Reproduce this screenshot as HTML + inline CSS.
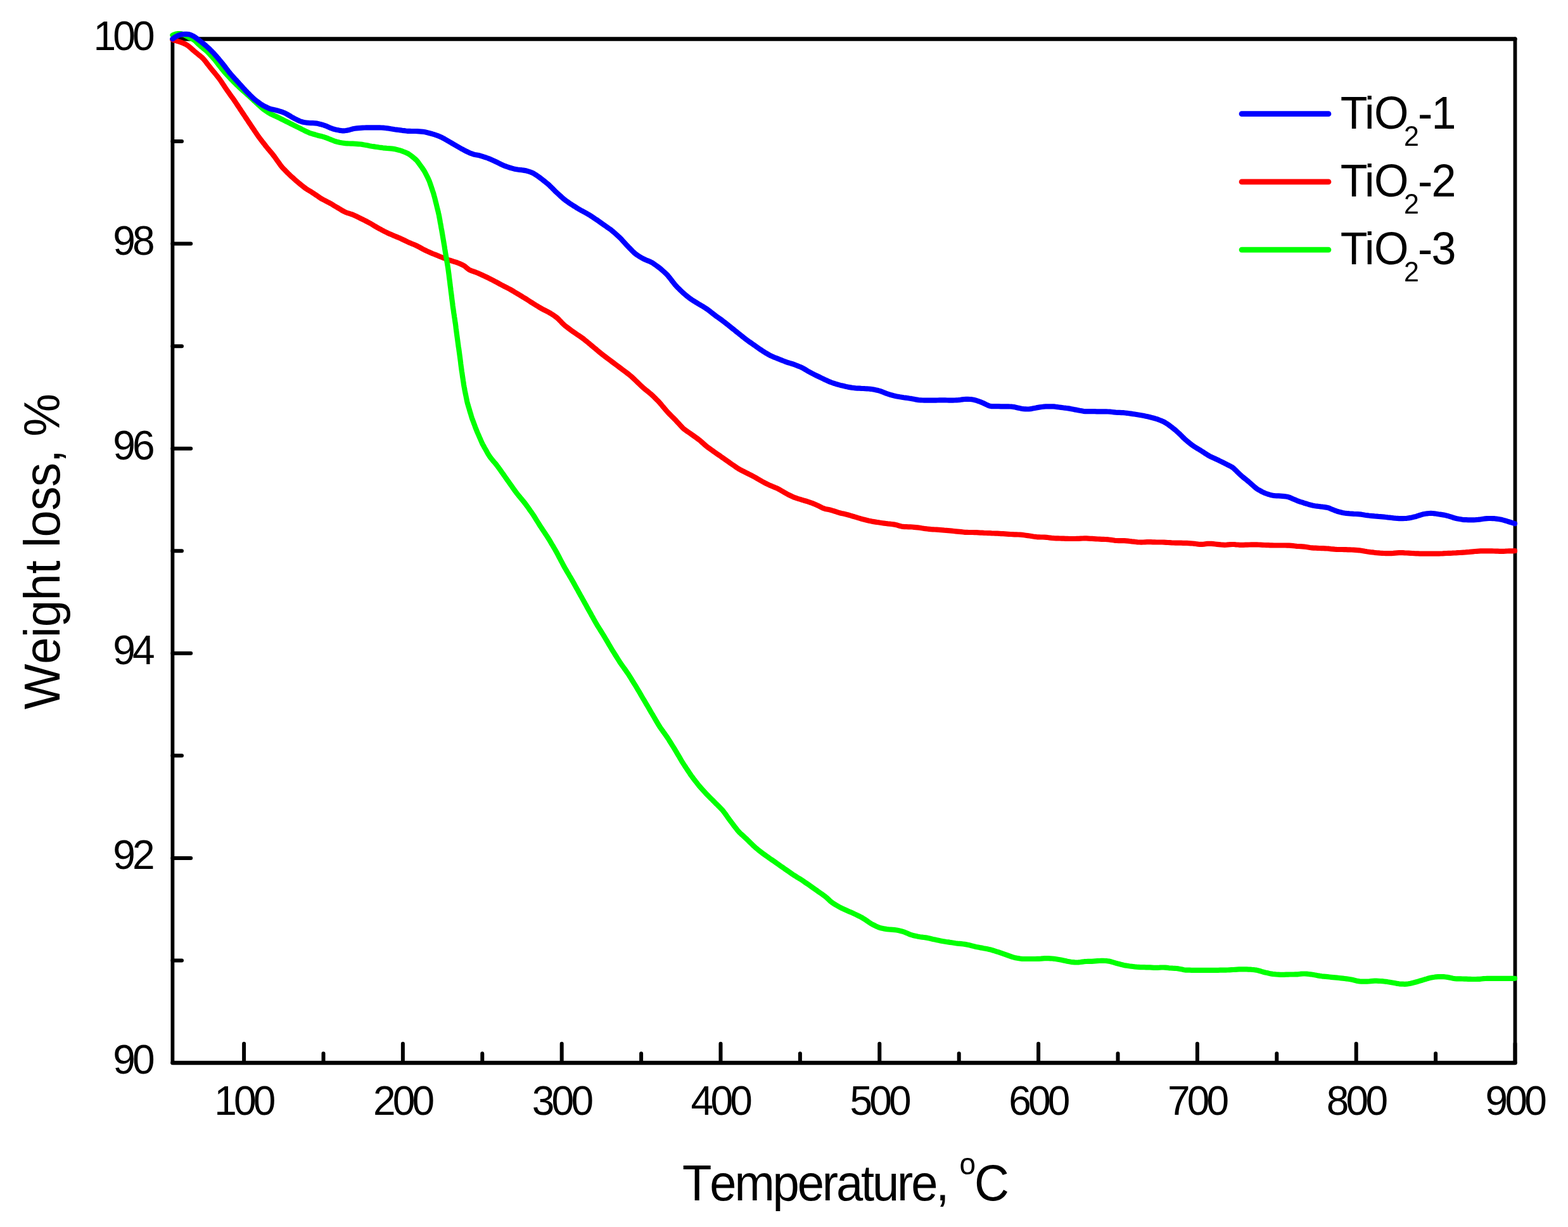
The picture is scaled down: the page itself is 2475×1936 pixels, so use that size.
<!DOCTYPE html>
<html><head><meta charset="utf-8"><title>TGA</title><style>html,body{margin:0;padding:0;background:#fff;overflow:hidden}svg{display:block}text{font-kerning:none}</style></head><body>
<svg width="2475" height="1936" viewBox="0 0 2475 1936">
<rect width="2475" height="1936" fill="#fff"/>
<path d="M385.10 1677.00V1646.70M510.50 1677.00V1662.20M635.90 1677.00V1646.70M761.30 1677.00V1662.20M886.70 1677.00V1646.70M1012.10 1677.00V1662.20M1137.50 1677.00V1646.70M1262.90 1677.00V1662.20M1388.30 1677.00V1646.70M1513.70 1677.00V1662.20M1639.10 1677.00V1646.70M1764.50 1677.00V1662.20M1889.90 1677.00V1646.70M2015.30 1677.00V1662.20M2140.70 1677.00V1646.70M2266.10 1677.00V1662.20M2391.50 1677.00V1646.70M272.40 1515.45H287.00M272.40 1353.90H301.20M272.40 1192.35H287.00M272.40 1030.80H301.20M272.40 869.25H287.00M272.40 707.70H301.20M272.40 546.15H287.00M272.40 384.60H301.20M272.40 223.05H287.00" stroke="#000" stroke-width="6.0" stroke-linecap="round" fill="none"/>
<path d="M272.4 61.5H2391.5" stroke="#000" stroke-width="6.3" fill="none" stroke-linecap="round"/>
<path d="M272.4 1677.0H2391.5" stroke="#000" stroke-width="6.3" fill="none" stroke-linecap="round"/>
<path d="M272.4 61.5V1677.0" stroke="#000" stroke-width="5.8" fill="none" stroke-linecap="round"/>
<path d="M2391.5 61.5V1677.0" stroke="#000" stroke-width="5.8" fill="none" stroke-linecap="round"/>
<g font-family="'Liberation Sans', sans-serif" font-size="64" fill="#000" style="letter-spacing:-4.8px">
<text x="384.40" y="1759" text-anchor="middle">100</text>
<text x="635.20" y="1759" text-anchor="middle">200</text>
<text x="886.00" y="1759" text-anchor="middle">300</text>
<text x="1136.80" y="1759" text-anchor="middle">400</text>
<text x="1387.60" y="1759" text-anchor="middle">500</text>
<text x="1638.40" y="1759" text-anchor="middle">600</text>
<text x="1889.20" y="1759" text-anchor="middle">700</text>
<text x="2140.00" y="1759" text-anchor="middle">800</text>
<text x="2390.80" y="1759" text-anchor="middle">900</text>
<text x="239.8" y="1694.30" text-anchor="end">90</text>
<text x="239.8" y="1371.20" text-anchor="end">92</text>
<text x="239.8" y="1048.10" text-anchor="end">94</text>
<text x="239.8" y="725.00" text-anchor="end">96</text>
<text x="239.8" y="401.90" text-anchor="end">98</text>
<text x="239.8" y="78.80" text-anchor="end">100</text>
</g>
<polyline points="272.4,62.7 275.4,63.7 278.1,64.4 281.0,65.2 283.8,66.1 286.7,67.1 289.5,68.2 292.2,69.4 294.8,70.8 297.2,72.5 299.5,74.4 301.8,76.4 304.0,78.4 306.3,80.4 308.6,82.3 310.9,84.2 313.2,86.1 315.6,88.0 317.9,89.9 320.1,91.9 322.1,94.1 324.0,96.4 325.8,98.8 327.6,101.2 329.5,103.5 331.3,105.9 333.2,108.3 335.1,110.6 337.0,112.9 338.9,115.2 340.8,117.5 342.7,119.8 344.6,122.2 346.4,124.6 348.1,127.0 349.8,129.5 351.4,132.0 353.1,134.5 354.7,137.0 356.4,139.5 358.1,142.0 359.8,144.4 361.6,146.9 363.3,149.3 365.1,151.8 366.8,154.2 368.6,156.7 370.3,159.1 372.0,161.6 373.6,164.1 375.3,166.6 377.0,169.1 378.6,171.6 380.3,174.1 381.9,176.6 383.6,179.1 385.3,181.6 386.9,184.1 388.6,186.6 390.3,189.1 391.9,191.6 393.6,194.1 395.3,196.6 396.9,199.1 398.6,201.6 400.3,204.0 401.9,206.5 403.6,209.0 405.3,211.5 407.0,214.0 408.7,216.4 410.5,218.8 412.4,221.2 414.2,223.6 416.0,225.9 417.9,228.3 419.7,230.7 421.6,233.0 423.5,235.3 425.5,237.6 427.4,239.9 429.3,242.2 431.2,244.6 433.0,246.9 434.8,249.4 436.5,251.8 438.3,254.3 440.0,256.7 441.7,259.1 443.5,261.6 445.4,263.9 447.4,266.1 449.5,268.2 451.6,270.4 453.7,272.5 455.9,274.6 458.0,276.7 460.2,278.7 462.5,280.7 464.7,282.7 466.9,284.7 469.2,286.7 471.5,288.6 473.8,290.5 476.1,292.4 478.5,294.3 480.9,296.1 483.3,297.9 485.8,299.5 488.4,301.0 491.0,302.6 493.5,304.2 496.0,305.8 498.5,307.5 501.0,309.2 503.4,310.9 505.9,312.6 508.5,314.1 511.1,315.5 513.8,316.9 516.5,318.3 519.1,319.6 521.8,321.1 524.3,322.6 526.9,324.2 529.5,325.7 532.1,327.2 534.6,328.8 537.2,330.3 539.8,331.9 542.4,333.4 545.0,334.7 547.8,335.8 550.7,336.7 553.5,337.6 556.4,338.5 559.1,339.7 561.9,340.9 564.5,342.3 567.2,343.6 569.9,345.0 572.6,346.3 575.3,347.6 578.0,349.0 580.6,350.4 583.3,351.8 585.9,353.3 588.4,354.8 591.0,356.4 593.6,357.9 596.2,359.4 598.8,360.8 601.5,362.2 604.1,363.7 606.8,365.1 609.5,366.4 612.2,367.7 614.9,368.9 617.6,370.1 620.4,371.4 623.2,372.5 625.9,373.6 628.7,374.8 631.5,375.9 634.2,377.2 636.9,378.5 639.6,379.8 642.3,381.1 645.0,382.4 647.8,383.6 650.5,384.7 653.3,385.8 656.1,387.0 658.8,388.3 661.4,389.7 664.1,391.2 666.7,392.6 669.3,394.0 672.0,395.3 674.8,396.6 677.5,397.8 680.2,399.0 683.0,400.2 685.8,401.3 688.6,402.4 691.4,403.5 694.1,404.7 696.9,405.8 699.7,406.9 702.5,408.0 705.3,409.1 708.1,410.1 711.0,411.0 713.8,411.9 716.7,412.8 719.6,413.7 722.4,414.7 725.2,415.8 727.9,417.0 730.6,418.2 733.2,419.7 735.5,421.6 737.7,423.5 740.1,425.3 742.7,426.6 745.5,427.7 748.3,428.7 751.2,429.7 754.0,430.8 756.7,432.0 759.5,433.2 762.2,434.5 764.9,435.7 767.6,437.0 770.3,438.3 773.0,439.7 775.7,441.0 778.3,442.4 781.0,443.8 783.6,445.2 786.3,446.7 788.9,448.1 791.5,449.5 794.2,450.9 796.9,452.3 799.6,453.6 802.2,455.0 804.9,456.4 807.5,457.9 810.1,459.4 812.6,461.0 815.2,462.5 817.8,464.1 820.3,465.6 822.9,467.1 825.5,468.7 828.1,470.2 830.6,471.8 833.1,473.4 835.7,475.1 838.2,476.7 840.7,478.3 843.2,479.9 845.8,481.5 848.4,483.0 850.9,484.6 853.5,486.1 856.1,487.6 858.8,489.0 861.5,490.3 864.1,491.7 866.8,493.1 869.4,494.6 871.9,496.2 874.4,497.9 876.8,499.6 879.2,501.4 881.4,503.4 883.5,505.6 885.6,507.7 887.6,509.9 889.8,512.0 892.0,514.0 894.4,515.8 896.8,517.6 899.2,519.4 901.6,521.2 904.0,523.0 906.5,524.7 909.0,526.4 911.5,528.1 914.0,529.7 916.4,531.4 918.9,533.1 921.3,534.9 923.6,536.8 925.9,538.7 928.3,540.6 930.6,542.5 932.9,544.5 935.2,546.4 937.5,548.3 939.8,550.2 942.1,552.2 944.4,554.1 946.7,556.0 949.0,557.9 951.4,559.7 953.8,561.6 956.2,563.4 958.6,565.2 961.0,567.0 963.4,568.8 965.8,570.6 968.2,572.4 970.6,574.2 973.0,576.0 975.4,577.8 977.8,579.6 980.2,581.4 982.6,583.2 985.0,585.0 987.4,586.8 989.8,588.6 992.2,590.4 994.5,592.3 996.8,594.2 999.0,596.3 1001.1,598.3 1003.3,600.4 1005.5,602.5 1007.6,604.5 1009.8,606.6 1012.0,608.7 1014.2,610.7 1016.4,612.7 1018.7,614.7 1021.1,616.5 1023.4,618.4 1025.7,620.3 1028.0,622.2 1030.2,624.3 1032.4,626.4 1034.5,628.5 1036.6,630.6 1038.7,632.7 1040.8,634.9 1042.8,637.2 1044.7,639.5 1046.6,641.8 1048.6,644.1 1050.5,646.4 1052.4,648.6 1054.4,650.9 1056.5,653.0 1058.6,655.1 1060.8,657.3 1062.9,659.4 1065.0,661.5 1067.1,663.7 1069.1,665.9 1071.1,668.1 1073.1,670.3 1075.2,672.6 1077.2,674.7 1079.4,676.7 1081.8,678.5 1084.3,680.3 1086.7,682.0 1089.2,683.7 1091.6,685.4 1094.1,687.2 1096.5,688.9 1099.0,690.6 1101.4,692.4 1103.8,694.2 1106.1,696.1 1108.3,698.1 1110.6,700.1 1112.8,702.1 1115.1,704.1 1117.4,705.9 1119.9,707.7 1122.3,709.4 1124.8,711.1 1127.2,712.9 1129.7,714.6 1132.1,716.3 1134.6,718.0 1137.1,719.7 1139.5,721.5 1142.0,723.2 1144.4,724.9 1146.9,726.6 1149.4,728.3 1151.8,730.1 1154.3,731.8 1156.7,733.5 1159.2,735.2 1161.6,736.9 1164.1,738.6 1166.7,740.2 1169.3,741.6 1172.0,743.0 1174.7,744.3 1177.3,745.7 1180.0,747.0 1182.7,748.4 1185.4,749.7 1188.1,751.1 1190.7,752.5 1193.3,753.9 1195.9,755.5 1198.5,757.0 1201.1,758.5 1203.7,760.0 1206.3,761.4 1209.0,762.8 1211.7,764.1 1214.4,765.4 1217.1,766.6 1219.9,767.8 1222.7,768.9 1225.5,770.1 1228.2,771.3 1230.8,772.7 1233.4,774.2 1236.0,775.7 1238.6,777.3 1241.2,778.7 1243.8,780.2 1246.5,781.5 1249.2,782.8 1251.9,784.1 1254.7,785.2 1257.5,786.2 1260.4,787.1 1263.3,787.9 1266.1,788.8 1269.0,789.7 1271.9,790.5 1274.8,791.4 1277.6,792.3 1280.4,793.3 1283.2,794.4 1286.0,795.5 1288.8,796.7 1291.5,797.9 1294.2,799.3 1296.8,800.7 1299.5,801.9 1302.3,802.9 1305.2,803.5 1308.2,804.1 1311.1,804.8 1314.0,805.6 1316.9,806.5 1319.7,807.4 1322.5,808.4 1325.4,809.2 1328.3,810.0 1331.3,810.6 1334.2,811.3 1337.1,812.0 1340.0,812.8 1342.9,813.6 1345.7,814.5 1348.6,815.3 1351.5,816.2 1354.4,817.1 1357.2,817.9 1360.1,818.8 1363.0,819.6 1365.9,820.3 1368.8,821.0 1371.8,821.7 1374.7,822.3 1377.6,822.9 1380.6,823.4 1383.6,823.9 1386.5,824.3 1389.5,824.8 1392.5,825.2 1395.4,825.6 1398.4,826.0 1401.4,826.4 1404.4,826.7 1407.3,827.0 1410.3,827.4 1413.3,827.9 1416.2,828.6 1419.0,829.5 1421.9,830.3 1424.8,830.9 1427.8,831.2 1430.8,831.2 1433.8,831.3 1436.8,831.3 1439.8,831.5 1442.8,831.8 1445.7,832.1 1448.7,832.4 1451.7,832.8 1454.7,833.3 1457.6,833.7 1460.6,834.2 1463.6,834.5 1466.6,834.8 1469.5,835.1 1472.5,835.3 1475.5,835.5 1478.5,835.7 1481.5,835.9 1484.5,836.1 1487.5,836.3 1490.5,836.6 1493.5,836.8 1496.5,837.1 1499.5,837.4 1502.4,837.7 1505.4,838.0 1508.4,838.3 1511.4,838.6 1514.4,838.9 1517.4,839.2 1520.4,839.5 1523.3,839.8 1526.3,839.9 1529.3,840.0 1532.3,840.0 1535.3,840.0 1538.3,840.1 1541.3,840.2 1544.3,840.4 1547.3,840.6 1550.3,840.7 1553.3,840.9 1556.3,841.0 1559.3,841.1 1562.3,841.2 1565.3,841.4 1568.3,841.5 1571.3,841.6 1574.3,841.7 1577.3,841.9 1580.3,842.1 1583.3,842.2 1586.3,842.4 1589.3,842.6 1592.3,842.8 1595.3,843.0 1598.3,843.1 1601.3,843.3 1604.3,843.4 1607.3,843.5 1610.3,843.7 1613.2,843.9 1616.2,844.3 1619.2,844.7 1622.2,845.1 1625.1,845.5 1628.1,846.0 1631.1,846.5 1634.0,846.9 1637.0,847.3 1640.0,847.4 1643.0,847.5 1646.0,847.5 1649.0,847.6 1652.0,847.8 1654.9,848.2 1657.9,848.6 1660.9,849.0 1663.9,849.2 1666.9,849.3 1669.9,849.4 1672.9,849.5 1675.9,849.6 1678.9,849.7 1681.9,849.8 1684.9,849.9 1687.9,850.0 1690.9,850.0 1693.9,850.0 1696.9,850.0 1699.9,849.9 1702.9,849.8 1705.9,849.6 1708.9,849.5 1711.8,849.4 1714.8,849.4 1717.8,849.6 1720.8,849.8 1723.8,849.9 1726.8,850.1 1729.8,850.3 1732.8,850.5 1735.8,850.6 1738.8,850.8 1741.8,850.9 1744.8,851.0 1747.8,851.2 1750.8,851.5 1753.8,851.9 1756.7,852.3 1759.7,852.8 1762.7,853.0 1765.6,853.1 1768.6,853.1 1771.6,853.1 1774.6,853.1 1777.6,853.4 1780.6,853.7 1783.6,854.0 1786.6,854.4 1789.6,854.7 1792.5,855.0 1795.5,855.3 1798.5,855.5 1801.5,855.6 1804.5,855.5 1807.5,855.3 1810.5,855.2 1813.5,855.1 1816.5,855.2 1819.5,855.3 1822.5,855.4 1825.5,855.5 1828.5,855.5 1831.5,855.5 1834.5,855.5 1837.5,855.6 1840.5,855.8 1843.5,856.0 1846.5,856.2 1849.4,856.4 1852.4,856.5 1855.4,856.6 1858.4,856.7 1861.4,856.7 1864.4,856.7 1867.4,856.8 1870.4,856.8 1873.4,856.9 1876.4,857.1 1879.4,857.3 1882.4,857.5 1885.4,857.8 1888.4,858.2 1891.4,858.6 1894.3,858.9 1897.3,858.9 1900.3,858.6 1903.2,858.2 1906.2,857.9 1909.2,857.8 1912.2,857.9 1915.2,858.2 1918.1,858.5 1921.1,858.8 1924.1,859.1 1927.1,859.4 1930.1,859.6 1933.1,859.8 1936.1,859.7 1939.0,859.4 1942.0,859.2 1945.0,859.0 1948.0,859.0 1951.0,859.3 1954.0,859.5 1957.0,859.8 1960.0,859.9 1962.9,859.8 1965.9,859.7 1968.9,859.6 1971.9,859.5 1974.9,859.4 1977.9,859.4 1980.9,859.3 1983.9,859.4 1986.9,859.5 1989.9,859.6 1992.9,859.8 1995.9,860.0 1998.9,860.1 2001.9,860.2 2004.9,860.4 2007.9,860.4 2010.9,860.5 2013.9,860.5 2016.9,860.5 2019.9,860.5 2022.9,860.5 2025.9,860.5 2028.9,860.5 2031.9,860.6 2034.9,860.7 2037.9,860.9 2040.9,861.2 2043.9,861.5 2046.9,861.8 2049.9,862.0 2052.9,862.2 2055.8,862.4 2058.8,862.7 2061.8,863.0 2064.8,863.5 2067.7,864.0 2070.7,864.3 2073.7,864.6 2076.7,864.7 2079.7,864.8 2082.7,865.0 2085.7,865.1 2088.7,865.2 2091.7,865.3 2094.7,865.5 2097.7,865.7 2100.6,866.1 2103.6,866.4 2106.6,866.7 2109.6,866.9 2112.6,867.0 2115.6,867.0 2118.6,867.0 2121.6,867.1 2124.6,867.2 2127.6,867.3 2130.6,867.4 2133.6,867.5 2136.6,867.7 2139.6,867.9 2142.6,868.1 2145.6,868.3 2148.5,868.7 2151.5,869.2 2154.4,869.8 2157.4,870.3 2160.4,870.7 2163.3,871.1 2166.3,871.4 2169.3,871.8 2172.3,872.1 2175.3,872.3 2178.3,872.6 2181.3,872.8 2184.3,873.0 2187.2,873.1 2190.2,873.1 2193.2,873.2 2196.2,873.1 2199.2,872.9 2202.2,872.6 2205.2,872.4 2208.2,872.2 2211.2,872.1 2214.2,872.2 2217.2,872.4 2220.2,872.5 2223.2,872.6 2226.2,872.8 2229.2,873.0 2232.2,873.2 2235.2,873.3 2238.2,873.4 2241.2,873.6 2244.2,873.7 2247.2,873.7 2250.2,873.7 2253.2,873.7 2256.2,873.7 2259.2,873.7 2262.2,873.7 2265.2,873.7 2268.2,873.7 2271.2,873.7 2274.2,873.5 2277.2,873.4 2280.1,873.2 2283.1,873.0 2286.1,872.9 2289.1,872.8 2292.1,872.7 2295.1,872.5 2298.1,872.4 2301.1,872.2 2304.1,872.0 2307.1,871.8 2310.1,871.6 2313.1,871.4 2316.1,871.1 2319.1,870.9 2322.1,870.6 2325.1,870.3 2328.0,870.0 2331.0,869.8 2334.0,869.6 2337.0,869.4 2340.0,869.4 2343.0,869.3 2346.0,869.3 2349.0,869.3 2352.0,869.4 2355.0,869.4 2358.0,869.5 2361.0,869.6 2364.0,869.7 2367.0,869.8 2370.0,869.9 2373.0,869.8 2376.0,869.7 2379.0,869.5 2382.0,869.4 2385.0,869.3 2387.8,869.3 2391.0,869.2" fill="none" stroke="#ff0000" stroke-width="8.2" stroke-linejoin="round" stroke-linecap="round"/>
<polyline points="272.4,55.5 275.4,54.3 278.0,53.5 280.9,53.1 283.9,53.0 286.8,53.4 289.5,54.3 292.2,55.6 294.8,57.1 297.3,58.6 300.0,60.0 302.7,61.2 305.3,62.5 307.7,64.3 309.9,66.3 312.0,68.5 314.1,70.5 316.4,72.5 318.7,74.4 321.0,76.3 323.4,78.2 325.7,80.1 327.8,82.2 329.9,84.3 331.9,86.5 334.0,88.8 336.0,91.0 338.0,93.2 339.9,95.5 341.8,97.9 343.6,100.3 345.4,102.6 347.3,105.0 349.1,107.4 351.0,109.7 352.9,112.0 354.9,114.3 356.9,116.5 358.9,118.7 361.0,120.9 363.0,123.1 365.1,125.3 367.2,127.4 369.3,129.6 371.4,131.7 373.5,133.8 375.7,135.9 377.9,138.0 380.1,140.0 382.3,142.0 384.5,144.0 386.8,146.0 389.0,148.0 391.2,150.0 393.5,152.0 395.7,154.0 397.9,156.0 400.1,158.1 402.3,160.1 404.5,162.2 406.7,164.2 408.9,166.3 411.1,168.3 413.3,170.3 415.7,172.1 418.1,173.9 420.6,175.6 423.1,177.3 425.6,178.9 428.3,180.3 431.0,181.5 433.7,182.8 436.4,184.0 439.1,185.3 441.8,186.6 444.5,188.0 447.2,189.3 449.9,190.7 452.6,192.0 455.3,193.3 457.9,194.7 460.6,196.0 463.3,197.4 466.0,198.7 468.7,200.1 471.4,201.4 474.1,202.7 476.7,204.1 479.4,205.4 482.1,206.8 484.8,208.1 487.6,209.3 490.4,210.3 493.2,211.2 496.1,212.0 499.0,212.9 501.9,213.7 504.8,214.4 507.7,215.1 510.6,215.9 513.4,216.8 516.3,217.9 519.0,219.0 521.8,220.1 524.6,221.2 527.4,222.3 530.2,223.3 533.1,224.1 536.0,224.8 539.0,225.3 541.9,225.7 544.9,226.1 547.9,226.3 550.9,226.5 553.9,226.6 556.9,226.7 559.9,226.9 562.9,227.1 565.9,227.3 568.9,227.5 571.8,227.9 574.8,228.5 577.7,229.0 580.7,229.6 583.6,230.2 586.6,230.7 589.6,231.1 592.5,231.6 595.5,232.0 598.5,232.5 601.4,232.9 604.4,233.3 607.4,233.6 610.4,233.9 613.4,234.1 616.4,234.3 619.3,234.6 622.3,235.1 625.2,235.8 628.1,236.5 631.0,237.2 633.9,238.1 636.7,239.2 639.5,240.3 642.2,241.5 644.9,242.8 647.3,244.5 649.7,246.3 652.1,248.2 654.4,250.1 656.6,252.1 658.6,254.3 660.4,256.6 662.2,259.1 663.9,261.5 665.7,263.9 667.4,266.4 669.1,268.9 670.6,271.4 672.0,274.1 673.4,276.8 674.7,279.4 676.0,282.1 677.3,284.9 678.3,287.7 679.3,290.5 680.3,293.3 681.2,296.2 682.2,299.0 683.1,301.9 684.1,304.7 684.9,307.6 685.7,310.5 686.5,313.4 687.2,316.3 687.9,319.2 688.7,322.1 689.4,325.1 690.1,328.0 690.8,330.9 691.6,333.8 692.2,336.7 692.9,339.6 693.4,342.6 694.0,345.5 694.5,348.5 695.0,351.5 695.6,354.4 696.1,357.4 696.6,360.3 697.2,363.3 697.7,366.2 698.2,369.2 698.7,372.1 699.2,375.1 699.7,378.1 700.2,381.0 700.7,384.0 701.2,386.9 701.7,389.9 702.1,392.9 702.6,395.8 703.1,398.8 703.6,401.7 704.1,404.7 704.6,407.7 705.1,410.6 705.6,413.6 706.1,416.5 706.6,419.5 707.1,422.5 707.5,425.4 707.9,428.4 708.3,431.4 708.7,434.4 709.0,437.3 709.4,440.3 709.8,443.3 710.2,446.3 710.5,449.3 710.9,452.2 711.3,455.2 711.6,458.2 712.0,461.2 712.4,464.1 712.8,467.1 713.1,470.1 713.5,473.1 713.9,476.1 714.3,479.0 714.6,482.0 715.0,485.0 715.5,488.0 715.9,490.9 716.3,493.9 716.8,496.9 717.2,499.8 717.7,502.8 718.1,505.8 718.5,508.7 719.0,511.7 719.4,514.7 719.7,517.7 720.1,520.6 720.5,523.6 720.9,526.6 721.3,529.6 721.7,532.5 722.1,535.5 722.5,538.5 722.9,541.5 723.3,544.4 723.7,547.4 724.2,550.4 724.6,553.4 725.0,556.3 725.4,559.3 725.8,562.3 726.2,565.3 726.6,568.2 727.0,571.2 727.3,574.2 727.7,577.2 728.1,580.1 728.5,583.1 728.9,586.1 729.4,589.1 729.8,592.0 730.2,595.0 730.7,598.0 731.1,600.9 731.6,603.9 732.0,606.9 732.5,609.8 733.1,612.8 733.6,615.7 734.2,618.7 734.8,621.6 735.4,624.5 736.0,627.5 736.6,630.4 737.2,633.4 737.9,636.3 738.8,639.2 739.6,642.0 740.5,644.9 741.3,647.8 742.2,650.7 743.1,653.5 743.9,656.4 744.8,659.3 745.8,662.1 746.9,664.9 747.9,667.7 749.0,670.5 750.0,673.4 751.1,676.2 752.2,679.0 753.3,681.7 754.5,684.5 755.7,687.2 756.9,690.0 758.1,692.7 759.3,695.5 760.5,698.2 761.8,700.9 763.3,703.6 764.7,706.2 766.2,708.8 767.7,711.4 769.1,714.0 770.6,716.6 772.2,719.2 773.9,721.6 775.8,724.0 777.7,726.3 779.6,728.6 781.6,730.9 783.5,733.2 785.3,735.6 787.1,738.0 788.8,740.4 790.6,742.9 792.3,745.3 794.0,747.8 795.8,750.2 797.5,752.7 799.2,755.1 800.9,757.6 802.7,760.0 804.4,762.5 806.1,764.9 807.9,767.4 809.6,769.8 811.3,772.3 813.1,774.7 814.9,777.2 816.7,779.5 818.6,781.8 820.5,784.1 822.4,786.5 824.4,788.8 826.3,791.1 828.1,793.4 829.9,795.8 831.7,798.2 833.5,800.7 835.2,803.1 836.9,805.6 838.7,808.0 840.4,810.5 842.1,813.0 843.7,815.5 845.3,818.1 846.8,820.6 848.4,823.1 850.0,825.7 851.6,828.2 853.2,830.8 854.9,833.3 856.5,835.8 858.2,838.3 859.9,840.8 861.5,843.3 863.2,845.8 864.8,848.3 866.4,850.8 868.0,853.4 869.5,856.0 871.0,858.6 872.6,861.1 874.1,863.7 875.6,866.3 877.1,868.9 878.6,871.5 880.0,874.2 881.4,876.8 882.8,879.5 884.2,882.1 885.6,884.8 887.0,887.4 888.4,890.1 889.8,892.7 891.3,895.4 892.8,898.0 894.3,900.6 895.8,903.2 897.3,905.7 898.8,908.3 900.4,910.9 901.9,913.5 903.4,916.1 904.9,918.7 906.3,921.3 907.8,924.0 909.2,926.6 910.7,929.2 912.2,931.8 913.6,934.5 915.1,937.1 916.5,939.7 918.0,942.3 919.4,944.9 920.9,947.6 922.4,950.2 923.8,952.8 925.3,955.4 926.7,958.1 928.2,960.7 929.6,963.3 931.1,965.9 932.6,968.6 934.0,971.2 935.5,973.8 936.9,976.4 938.4,979.1 939.9,981.7 941.4,984.3 942.9,986.8 944.5,989.4 946.1,991.9 947.7,994.5 949.3,997.0 950.9,999.6 952.5,1002.1 954.0,1004.7 955.6,1007.3 957.1,1009.8 958.6,1012.4 960.1,1015.0 961.6,1017.6 963.2,1020.2 964.7,1022.8 966.2,1025.3 967.8,1027.9 969.4,1030.4 971.0,1033.0 972.6,1035.5 974.2,1038.1 975.8,1040.6 977.4,1043.2 979.0,1045.7 980.7,1048.1 982.5,1050.6 984.2,1053.0 986.0,1055.5 987.7,1057.9 989.4,1060.3 991.1,1062.8 992.8,1065.3 994.4,1067.9 996.0,1070.4 997.5,1073.0 999.1,1075.5 1000.7,1078.1 1002.3,1080.6 1003.9,1083.2 1005.4,1085.8 1006.9,1088.3 1008.5,1090.9 1010.0,1093.5 1011.5,1096.1 1013.0,1098.7 1014.5,1101.3 1016.1,1103.9 1017.6,1106.4 1019.1,1109.0 1020.6,1111.6 1022.2,1114.2 1023.7,1116.8 1025.2,1119.4 1026.7,1122.0 1028.2,1124.6 1029.8,1127.1 1031.3,1129.7 1032.8,1132.3 1034.3,1134.9 1035.8,1137.5 1037.4,1140.1 1038.9,1142.7 1040.5,1145.2 1042.1,1147.7 1043.8,1150.2 1045.6,1152.6 1047.3,1155.1 1049.1,1157.5 1050.8,1160.0 1052.5,1162.4 1054.2,1164.9 1055.8,1167.4 1057.4,1170.0 1059.0,1172.5 1060.6,1175.1 1062.2,1177.6 1063.8,1180.2 1065.3,1182.7 1066.9,1185.3 1068.4,1187.9 1069.9,1190.5 1071.5,1193.0 1073.0,1195.6 1074.5,1198.2 1076.0,1200.8 1077.6,1203.4 1079.2,1205.9 1080.8,1208.4 1082.5,1210.9 1084.1,1213.4 1085.8,1215.9 1087.5,1218.4 1089.1,1220.9 1090.8,1223.4 1092.6,1225.8 1094.4,1228.2 1096.2,1230.6 1098.1,1233.0 1099.9,1235.3 1101.8,1237.7 1103.6,1240.0 1105.6,1242.3 1107.6,1244.5 1109.6,1246.7 1111.7,1249.0 1113.7,1251.2 1115.7,1253.4 1117.8,1255.5 1119.9,1257.7 1122.0,1259.8 1124.2,1261.9 1126.3,1264.0 1128.4,1266.2 1130.5,1268.3 1132.7,1270.4 1134.8,1272.5 1136.9,1274.7 1139.0,1276.8 1141.0,1279.0 1142.8,1281.4 1144.6,1283.8 1146.4,1286.2 1148.1,1288.7 1149.8,1291.1 1151.6,1293.6 1153.4,1296.0 1155.2,1298.4 1157.0,1300.8 1158.8,1303.2 1160.6,1305.5 1162.5,1307.9 1164.3,1310.3 1166.3,1312.5 1168.4,1314.6 1170.6,1316.7 1172.9,1318.7 1175.1,1320.7 1177.3,1322.7 1179.5,1324.8 1181.6,1326.9 1183.7,1329.0 1185.9,1331.1 1188.0,1333.2 1190.2,1335.3 1192.4,1337.3 1194.7,1339.2 1197.0,1341.1 1199.4,1343.0 1201.7,1344.8 1204.1,1346.6 1206.6,1348.4 1209.0,1350.1 1211.5,1351.8 1213.9,1353.6 1216.4,1355.3 1218.9,1357.0 1221.3,1358.7 1223.8,1360.4 1226.2,1362.2 1228.7,1363.9 1231.1,1365.6 1233.6,1367.3 1236.1,1369.0 1238.5,1370.8 1241.0,1372.5 1243.4,1374.2 1245.9,1375.9 1248.4,1377.7 1250.8,1379.4 1253.3,1381.0 1255.9,1382.6 1258.4,1384.2 1261.0,1385.7 1263.6,1387.3 1266.1,1388.9 1268.6,1390.6 1271.0,1392.3 1273.5,1394.0 1276.0,1395.7 1278.4,1397.4 1280.9,1399.2 1283.3,1400.9 1285.8,1402.6 1288.3,1404.3 1290.7,1406.1 1293.2,1407.8 1295.6,1409.5 1298.1,1411.2 1300.5,1413.0 1302.9,1414.8 1305.2,1416.7 1307.4,1418.8 1309.5,1420.8 1311.8,1422.8 1314.2,1424.6 1316.7,1426.2 1319.2,1427.8 1321.8,1429.3 1324.4,1430.8 1327.1,1432.2 1329.8,1433.5 1332.5,1434.7 1335.3,1436.0 1338.0,1437.2 1340.7,1438.4 1343.5,1439.6 1346.2,1440.8 1349.0,1442.1 1351.7,1443.4 1354.4,1444.7 1357.1,1446.0 1359.7,1447.4 1362.3,1448.9 1364.9,1450.5 1367.3,1452.1 1369.8,1453.9 1372.3,1455.6 1374.8,1457.2 1377.4,1458.7 1380.1,1460.0 1382.8,1461.4 1385.5,1462.6 1388.3,1463.7 1391.1,1464.4 1394.1,1465.1 1397.0,1465.6 1400.0,1466.1 1403.0,1466.4 1405.9,1466.6 1408.9,1466.8 1411.9,1467.1 1414.9,1467.5 1417.8,1468.1 1420.8,1468.7 1423.7,1469.4 1426.5,1470.3 1429.3,1471.4 1432.0,1472.6 1434.8,1473.8 1437.6,1474.8 1440.5,1475.7 1443.4,1476.4 1446.3,1477.1 1449.2,1477.7 1452.2,1478.2 1455.2,1478.6 1458.1,1479.0 1461.1,1479.4 1464.1,1479.9 1467.0,1480.6 1469.9,1481.3 1472.8,1482.0 1475.8,1482.6 1478.7,1483.2 1481.6,1483.8 1484.6,1484.4 1487.5,1485.0 1490.5,1485.5 1493.4,1486.0 1496.4,1486.4 1499.4,1486.9 1502.3,1487.3 1505.3,1487.7 1508.3,1488.2 1511.3,1488.6 1514.2,1488.9 1517.2,1489.2 1520.2,1489.5 1523.2,1489.9 1526.1,1490.4 1529.1,1491.1 1532.0,1491.8 1534.9,1492.6 1537.8,1493.2 1540.7,1493.9 1543.7,1494.5 1546.6,1495.1 1549.6,1495.6 1552.5,1496.2 1555.5,1496.7 1558.4,1497.3 1561.3,1497.9 1564.2,1498.6 1567.1,1499.5 1570.0,1500.4 1572.8,1501.3 1575.7,1502.2 1578.5,1503.2 1581.4,1504.2 1584.2,1505.1 1587.1,1506.1 1589.9,1507.1 1592.7,1508.1 1595.5,1509.1 1598.4,1510.1 1601.3,1510.9 1604.2,1511.5 1607.1,1512.0 1610.1,1512.5 1613.1,1512.8 1616.1,1513.0 1619.1,1513.0 1622.1,1513.0 1625.1,1513.0 1628.1,1513.0 1631.1,1513.0 1634.1,1513.0 1637.1,1512.9 1640.1,1512.8 1643.1,1512.6 1646.0,1512.3 1649.0,1512.2 1652.0,1512.1 1655.0,1512.2 1658.0,1512.3 1661.0,1512.5 1664.0,1512.8 1667.0,1513.2 1669.9,1513.7 1672.9,1514.2 1675.8,1514.8 1678.8,1515.4 1681.7,1516.1 1684.6,1516.8 1687.6,1517.3 1690.5,1517.8 1693.5,1518.1 1696.5,1518.4 1699.5,1518.5 1702.4,1518.3 1705.4,1518.0 1708.4,1517.6 1711.4,1517.2 1714.4,1517.0 1717.4,1516.9 1720.4,1516.8 1723.4,1516.8 1726.4,1516.6 1729.3,1516.4 1732.3,1516.2 1735.3,1516.0 1738.3,1515.9 1741.3,1515.9 1744.3,1516.0 1747.3,1516.2 1750.3,1516.6 1753.2,1517.3 1756.1,1518.1 1758.9,1518.9 1761.8,1519.8 1764.7,1520.6 1767.6,1521.3 1770.5,1522.1 1773.4,1522.8 1776.4,1523.4 1779.3,1523.8 1782.3,1524.3 1785.3,1524.7 1788.3,1525.0 1791.2,1525.4 1794.2,1525.7 1797.2,1525.9 1800.2,1526.1 1803.2,1526.2 1806.2,1526.2 1809.2,1526.3 1812.2,1526.3 1815.2,1526.4 1818.2,1526.6 1821.2,1526.8 1824.2,1526.9 1827.2,1526.8 1830.2,1526.7 1833.2,1526.5 1836.2,1526.5 1839.1,1526.6 1842.1,1526.9 1845.1,1527.3 1848.1,1527.5 1851.1,1527.7 1854.1,1527.8 1857.1,1528.0 1860.0,1528.4 1863.0,1529.0 1865.9,1529.6 1868.8,1530.2 1871.8,1530.6 1874.8,1530.7 1877.8,1530.7 1880.8,1530.8 1883.8,1530.8 1886.8,1530.8 1889.8,1530.8 1892.8,1530.8 1895.8,1530.8 1898.8,1530.8 1901.8,1530.8 1904.8,1530.8 1907.8,1530.8 1910.8,1530.8 1913.8,1530.8 1916.8,1530.8 1919.8,1530.8 1922.8,1530.8 1925.8,1530.7 1928.8,1530.7 1931.8,1530.7 1934.8,1530.6 1937.8,1530.5 1940.8,1530.3 1943.8,1530.1 1946.8,1530.0 1949.8,1529.8 1952.8,1529.6 1955.8,1529.4 1958.8,1529.3 1961.8,1529.3 1964.8,1529.4 1967.8,1529.4 1970.8,1529.6 1973.8,1529.7 1976.8,1530.0 1979.8,1530.2 1982.7,1530.6 1985.6,1531.2 1988.5,1532.0 1991.4,1532.9 1994.3,1533.7 1997.2,1534.5 2000.1,1535.1 2003.0,1535.8 2006.0,1536.4 2008.9,1536.9 2011.9,1537.2 2014.9,1537.5 2017.9,1537.7 2020.9,1537.9 2023.9,1537.9 2026.9,1537.8 2029.9,1537.7 2032.9,1537.6 2035.9,1537.5 2038.9,1537.5 2041.9,1537.5 2044.9,1537.4 2047.9,1537.3 2050.9,1537.0 2053.8,1536.7 2056.8,1536.5 2059.8,1536.5 2062.8,1536.7 2065.8,1537.0 2068.8,1537.3 2071.7,1537.7 2074.7,1538.3 2077.6,1538.8 2080.6,1539.4 2083.5,1539.9 2086.5,1540.3 2089.5,1540.6 2092.5,1540.9 2095.5,1541.2 2098.5,1541.5 2101.4,1541.8 2104.4,1542.1 2107.4,1542.4 2110.4,1542.7 2113.4,1543.0 2116.4,1543.3 2119.4,1543.6 2122.3,1544.0 2125.3,1544.4 2128.3,1544.8 2131.2,1545.2 2134.2,1545.8 2137.1,1546.5 2140.0,1547.2 2142.9,1547.9 2145.9,1548.4 2148.8,1548.7 2151.8,1548.7 2154.8,1548.7 2157.8,1548.7 2160.8,1548.5 2163.8,1548.2 2166.8,1547.9 2169.8,1547.7 2172.8,1547.7 2175.8,1547.8 2178.8,1548.0 2181.8,1548.2 2184.7,1548.5 2187.7,1548.8 2190.7,1549.3 2193.7,1549.7 2196.6,1550.2 2199.6,1550.7 2202.5,1551.3 2205.5,1551.9 2208.4,1552.3 2211.4,1552.6 2214.4,1552.7 2217.4,1552.8 2220.4,1552.7 2223.3,1552.3 2226.2,1551.7 2229.2,1551.0 2232.1,1550.3 2235.0,1549.5 2237.9,1548.7 2240.7,1547.8 2243.6,1547.0 2246.5,1546.1 2249.4,1545.2 2252.2,1544.4 2255.1,1543.5 2258.0,1542.8 2260.9,1542.2 2263.9,1541.8 2266.9,1541.3 2269.9,1541.1 2272.8,1541.0 2275.8,1541.1 2278.8,1541.2 2281.8,1541.5 2284.8,1541.9 2287.7,1542.4 2290.7,1543.1 2293.6,1543.7 2296.6,1544.1 2299.5,1544.3 2302.5,1544.4 2305.5,1544.4 2308.5,1544.5 2311.5,1544.6 2314.5,1544.7 2317.5,1544.9 2320.5,1544.9 2323.5,1545.0 2326.5,1545.0 2329.5,1545.0 2332.5,1544.9 2335.5,1544.8 2338.5,1544.5 2341.5,1544.2 2344.5,1544.0 2347.5,1543.8 2350.5,1543.8 2353.5,1543.8 2356.5,1543.8 2359.5,1543.8 2362.5,1543.8 2365.5,1543.8 2368.5,1543.8 2371.5,1543.8 2374.5,1543.8 2377.5,1543.8 2380.5,1543.8 2383.5,1543.8 2386.4,1543.8 2388.9,1543.8 2391.0,1543.8" fill="none" stroke="#00ff00" stroke-width="8.2" stroke-linejoin="round" stroke-linecap="round"/>
<polyline points="272.4,61.5 274.9,59.5 277.2,58.0 279.8,56.6 282.5,55.4 285.4,54.6 288.3,54.0 291.3,53.8 294.3,53.8 297.2,54.1 300.1,54.8 302.8,55.9 305.5,57.2 308.0,58.8 310.4,60.6 312.8,62.4 315.2,64.2 317.6,66.1 319.9,68.0 322.2,69.8 324.6,71.7 326.8,73.7 329.0,75.7 331.2,77.8 333.3,80.0 335.4,82.1 337.5,84.2 339.5,86.4 341.5,88.7 343.4,91.0 345.4,93.3 347.3,95.6 349.2,97.9 351.1,100.2 353.0,102.6 354.8,104.9 356.6,107.3 358.5,109.7 360.3,112.1 362.1,114.4 364.0,116.8 366.0,119.0 368.0,121.3 370.0,123.5 372.0,125.7 374.1,127.9 376.1,130.1 378.1,132.4 380.1,134.6 382.1,136.8 384.1,139.0 386.2,141.2 388.2,143.4 390.3,145.6 392.4,147.7 394.5,149.9 396.7,152.0 398.8,154.1 401.0,156.1 403.3,158.0 405.7,159.8 408.1,161.6 410.5,163.4 413.0,165.1 415.6,166.6 418.2,168.0 420.9,169.3 423.6,170.6 426.4,171.7 429.3,172.4 432.2,173.1 435.1,173.7 438.0,174.4 440.9,175.3 443.7,176.2 446.6,177.2 449.3,178.3 452.0,179.6 454.6,181.1 457.2,182.6 459.8,184.2 462.4,185.7 465.0,187.1 467.7,188.4 470.4,189.8 473.1,191.0 475.9,192.0 478.8,192.7 481.8,193.2 484.7,193.6 487.7,193.9 490.7,194.1 493.7,194.2 496.7,194.3 499.7,194.6 502.6,195.2 505.5,195.9 508.4,196.7 511.3,197.6 514.1,198.6 516.8,199.8 519.6,201.0 522.3,202.2 525.1,203.2 528.0,204.0 530.9,204.7 533.9,205.3 536.8,205.9 539.7,206.3 542.7,206.3 545.7,206.0 548.6,205.6 551.5,204.9 554.4,204.1 557.3,203.3 560.2,202.8 563.2,202.4 566.2,202.1 569.2,201.9 572.2,201.7 575.2,201.5 578.2,201.4 581.2,201.3 584.2,201.3 587.2,201.3 590.2,201.3 593.2,201.3 596.2,201.3 599.2,201.4 602.2,201.5 605.1,201.7 608.1,202.0 611.1,202.3 614.1,202.8 617.0,203.3 620.0,203.7 623.0,204.2 625.9,204.6 628.9,205.0 631.9,205.4 634.9,205.8 637.8,206.1 640.8,206.5 643.8,206.8 646.8,206.9 649.8,207.0 652.8,207.0 655.8,207.0 658.8,207.2 661.8,207.4 664.8,207.6 667.8,207.9 670.7,208.3 673.6,209.0 676.5,209.7 679.4,210.5 682.3,211.3 685.2,212.2 688.0,213.1 690.9,214.1 693.7,215.2 696.4,216.4 699.1,217.8 701.7,219.2 704.3,220.7 706.9,222.2 709.5,223.7 712.1,225.2 714.6,226.8 717.2,228.3 719.8,229.8 722.4,231.3 725.0,232.8 727.6,234.3 730.3,235.7 732.9,237.1 735.6,238.5 738.3,239.8 741.0,241.1 743.8,242.2 746.6,243.2 749.5,243.9 752.4,244.5 755.4,245.1 758.3,245.8 761.1,246.7 764.0,247.6 766.9,248.5 769.7,249.5 772.5,250.6 775.2,251.8 778.0,253.0 780.7,254.2 783.4,255.5 786.1,256.8 788.8,258.2 791.5,259.5 794.2,260.7 797.0,261.9 799.8,262.9 802.7,263.8 805.5,264.8 808.4,265.6 811.3,266.4 814.2,267.0 817.2,267.5 820.1,267.9 823.1,268.2 826.1,268.6 829.0,269.1 831.9,269.8 834.8,270.7 837.7,271.6 840.4,272.7 843.0,274.1 845.5,275.7 848.0,277.4 850.5,279.1 852.9,280.9 855.3,282.7 857.6,284.6 860.0,286.4 862.3,288.3 864.6,290.2 866.9,292.2 869.0,294.3 871.2,296.4 873.3,298.5 875.4,300.7 877.5,302.8 879.7,304.8 881.9,306.8 884.2,308.9 886.4,310.9 888.6,312.8 890.9,314.8 893.3,316.6 895.8,318.3 898.2,320.1 900.7,321.8 903.2,323.4 905.7,325.0 908.3,326.6 910.8,328.2 913.4,329.7 916.0,331.2 918.6,332.7 921.3,334.1 923.9,335.5 926.5,337.0 929.1,338.5 931.7,340.1 934.2,341.7 936.7,343.4 939.2,345.1 941.7,346.7 944.1,348.4 946.6,350.2 949.0,351.9 951.5,353.6 954.0,355.3 956.4,357.0 958.9,358.8 961.3,360.5 963.8,362.2 966.1,364.1 968.4,366.0 970.7,368.0 972.9,370.0 975.1,372.0 977.3,374.0 979.5,376.1 981.5,378.3 983.5,380.5 985.6,382.8 987.6,385.0 989.6,387.2 991.7,389.4 993.8,391.5 995.9,393.6 998.0,395.8 1000.1,397.9 1002.3,399.9 1004.7,401.8 1007.2,403.4 1009.7,405.0 1012.3,406.5 1014.9,408.0 1017.6,409.3 1020.3,410.5 1023.1,411.6 1025.9,412.8 1028.6,414.1 1031.1,415.6 1033.6,417.3 1036.0,419.0 1038.5,420.8 1040.9,422.6 1043.2,424.5 1045.4,426.5 1047.7,428.5 1049.9,430.5 1052.1,432.6 1054.1,434.7 1056.0,437.1 1057.9,439.4 1059.7,441.8 1061.5,444.2 1063.4,446.5 1065.2,448.9 1067.2,451.1 1069.3,453.3 1071.4,455.4 1073.5,457.5 1075.7,459.6 1077.8,461.7 1080.1,463.7 1082.4,465.6 1084.7,467.5 1087.1,469.4 1089.5,471.2 1091.9,472.9 1094.4,474.5 1097.0,476.1 1099.6,477.6 1102.1,479.2 1104.7,480.7 1107.3,482.3 1109.9,483.8 1112.4,485.4 1114.9,487.0 1117.4,488.7 1119.8,490.5 1122.1,492.4 1124.5,494.3 1126.8,496.1 1129.2,497.9 1131.6,499.7 1134.1,501.4 1136.6,503.1 1139.0,504.9 1141.4,506.7 1143.8,508.5 1146.1,510.4 1148.5,512.2 1150.8,514.1 1153.2,516.0 1155.5,517.9 1157.9,519.7 1160.2,521.6 1162.5,523.5 1164.9,525.4 1167.2,527.2 1169.6,529.1 1171.9,531.0 1174.3,532.9 1176.6,534.7 1179.0,536.5 1181.4,538.3 1183.9,540.0 1186.3,541.7 1188.8,543.5 1191.3,545.2 1193.7,546.9 1196.2,548.6 1198.6,550.3 1201.1,552.0 1203.6,553.7 1206.1,555.3 1208.7,556.9 1211.3,558.4 1213.9,559.9 1216.5,561.3 1219.3,562.5 1222.0,563.7 1224.8,564.8 1227.6,565.9 1230.4,567.0 1233.2,568.1 1236.0,569.2 1238.8,570.3 1241.6,571.3 1244.4,572.3 1247.3,573.1 1250.2,574.0 1253.0,574.9 1255.8,576.0 1258.6,577.1 1261.4,578.2 1264.2,579.3 1266.9,580.7 1269.5,582.1 1272.1,583.6 1274.6,585.2 1277.2,586.7 1279.9,588.1 1282.5,589.5 1285.2,590.9 1287.9,592.2 1290.6,593.5 1293.3,594.8 1296.0,596.1 1298.7,597.4 1301.4,598.7 1304.2,599.9 1306.9,601.2 1309.6,602.4 1312.4,603.5 1315.2,604.5 1318.1,605.4 1320.9,606.3 1323.8,607.1 1326.7,607.9 1329.6,608.6 1332.6,609.3 1335.5,610.0 1338.4,610.6 1341.4,611.1 1344.3,611.6 1347.3,612.0 1350.3,612.4 1353.3,612.6 1356.3,612.7 1359.3,612.9 1362.3,613.0 1365.3,613.2 1368.3,613.3 1371.2,613.5 1374.2,613.8 1377.2,614.2 1380.1,614.8 1383.1,615.4 1386.0,616.1 1388.9,616.9 1391.7,617.9 1394.5,619.0 1397.3,620.1 1400.1,621.2 1402.9,622.1 1405.8,623.0 1408.7,623.8 1411.6,624.6 1414.5,625.3 1417.4,625.8 1420.4,626.3 1423.4,626.7 1426.3,627.2 1429.3,627.6 1432.3,628.0 1435.2,628.5 1438.2,628.9 1441.1,629.5 1444.1,630.1 1447.0,630.6 1450.0,631.1 1453.0,631.3 1456.0,631.5 1459.0,631.6 1462.0,631.7 1465.0,631.7 1468.0,631.7 1471.0,631.7 1474.0,631.7 1477.0,631.7 1480.0,631.5 1483.0,631.4 1486.0,631.4 1489.0,631.4 1492.0,631.4 1495.0,631.5 1498.0,631.6 1501.0,631.6 1504.0,631.6 1507.0,631.5 1510.0,631.3 1512.9,631.1 1515.9,630.8 1518.9,630.4 1521.9,630.0 1524.8,629.8 1527.8,629.8 1530.8,630.0 1533.8,630.2 1536.8,630.7 1539.6,631.4 1542.5,632.3 1545.3,633.3 1548.1,634.4 1550.9,635.5 1553.6,636.8 1556.3,638.1 1559.0,639.4 1561.7,640.5 1564.6,641.1 1567.6,641.2 1570.6,641.2 1573.6,641.2 1576.6,641.2 1579.6,641.3 1582.6,641.3 1585.6,641.3 1588.6,641.3 1591.6,641.4 1594.6,641.5 1597.5,641.7 1600.5,642.1 1603.4,642.7 1606.3,643.4 1609.3,644.1 1612.2,644.7 1615.1,645.1 1618.1,645.3 1621.1,645.5 1624.1,645.5 1627.1,645.2 1630.0,644.6 1632.9,644.0 1635.9,643.4 1638.8,642.9 1641.8,642.4 1644.8,642.0 1647.7,641.6 1650.7,641.4 1653.7,641.3 1656.7,641.3 1659.7,641.3 1662.7,641.4 1665.7,641.7 1668.7,642.1 1671.6,642.5 1674.6,642.9 1677.6,643.3 1680.6,643.7 1683.5,644.0 1686.5,644.4 1689.5,644.9 1692.4,645.5 1695.4,646.1 1698.3,646.6 1701.2,647.2 1704.2,647.8 1707.2,648.3 1710.1,648.8 1713.1,649.1 1716.1,649.2 1719.1,649.2 1722.1,649.2 1725.1,649.2 1728.1,649.2 1731.1,649.3 1734.1,649.3 1737.1,649.3 1740.1,649.3 1743.1,649.4 1746.1,649.4 1749.1,649.5 1752.1,649.7 1755.1,650.0 1758.0,650.3 1761.0,650.6 1764.0,650.8 1767.0,650.9 1770.0,651.1 1773.0,651.2 1776.0,651.5 1779.0,651.8 1781.9,652.2 1784.9,652.6 1787.9,653.1 1790.9,653.5 1793.8,654.0 1796.8,654.5 1799.7,655.0 1802.7,655.5 1805.6,656.1 1808.6,656.7 1811.5,657.3 1814.4,658.0 1817.3,658.8 1820.2,659.5 1823.1,660.3 1826.0,661.2 1828.8,662.2 1831.6,663.3 1834.4,664.4 1837.1,665.6 1839.7,667.1 1842.2,668.7 1844.7,670.4 1847.1,672.2 1849.5,674.0 1851.8,675.9 1854.2,677.8 1856.5,679.7 1858.7,681.7 1860.9,683.7 1863.1,685.8 1865.2,687.9 1867.3,690.1 1869.5,692.1 1871.7,694.2 1874.0,696.1 1876.3,698.0 1878.6,699.9 1881.0,701.7 1883.4,703.5 1885.9,705.1 1888.5,706.7 1891.0,708.3 1893.6,709.8 1896.1,711.4 1898.7,713.0 1901.2,714.7 1903.7,716.3 1906.2,717.9 1908.8,719.4 1911.5,720.8 1914.2,722.0 1917.0,723.2 1919.7,724.5 1922.4,725.7 1925.1,727.1 1927.8,728.4 1930.5,729.7 1933.2,731.1 1935.8,732.4 1938.5,733.8 1941.2,735.1 1943.8,736.5 1946.3,738.2 1948.5,740.1 1950.7,742.2 1952.8,744.3 1954.9,746.4 1957.1,748.5 1959.3,750.5 1961.6,752.5 1963.9,754.4 1966.3,756.2 1968.6,758.1 1970.9,760.0 1973.2,762.0 1975.4,764.0 1977.7,766.0 1979.9,768.0 1982.2,769.9 1984.6,771.7 1987.2,773.2 1989.8,774.6 1992.4,776.1 1995.1,777.4 1997.9,778.5 2000.7,779.5 2003.6,780.4 2006.5,781.2 2009.4,781.8 2012.3,782.1 2015.3,782.3 2018.3,782.4 2021.3,782.6 2024.3,782.8 2027.3,783.1 2030.3,783.5 2033.2,784.1 2036.0,785.0 2038.7,786.2 2041.5,787.4 2044.2,788.6 2047.0,789.8 2049.8,790.8 2052.6,791.8 2055.5,792.7 2058.3,793.7 2061.2,794.5 2064.1,795.4 2066.9,796.3 2069.8,797.0 2072.8,797.7 2075.7,798.2 2078.7,798.6 2081.7,799.0 2084.6,799.4 2087.6,799.7 2090.6,800.1 2093.6,800.6 2096.4,801.2 2099.2,802.2 2102.0,803.4 2104.8,804.6 2107.5,805.7 2110.4,806.7 2113.3,807.5 2116.2,808.2 2119.1,808.9 2122.0,809.5 2125.0,809.9 2128.0,810.2 2131.0,810.5 2133.9,810.7 2136.9,810.9 2139.9,811.0 2142.9,811.2 2145.9,811.4 2148.9,811.7 2151.9,812.2 2154.8,812.7 2157.8,813.1 2160.8,813.5 2163.8,813.8 2166.7,814.1 2169.7,814.4 2172.7,814.6 2175.7,814.9 2178.7,815.1 2181.7,815.4 2184.7,815.7 2187.7,816.0 2190.6,816.4 2193.6,816.7 2196.6,817.0 2199.6,817.4 2202.6,817.7 2205.6,817.9 2208.5,818.1 2211.5,818.2 2214.5,818.1 2217.5,818.0 2220.5,817.8 2223.5,817.4 2226.4,816.9 2229.4,816.3 2232.3,815.6 2235.2,814.9 2238.0,813.9 2240.9,813.0 2243.7,812.1 2246.6,811.3 2249.6,810.8 2252.5,810.3 2255.5,810.0 2258.5,809.8 2261.5,810.0 2264.4,810.3 2267.4,810.7 2270.4,811.2 2273.3,811.6 2276.3,812.1 2279.3,812.6 2282.2,813.2 2285.1,813.9 2288.0,814.8 2290.8,815.7 2293.7,816.7 2296.5,817.5 2299.5,818.2 2302.4,818.8 2305.3,819.3 2308.3,819.8 2311.3,820.1 2314.3,820.2 2317.3,820.3 2320.3,820.4 2323.3,820.4 2326.3,820.3 2329.3,820.2 2332.2,820.0 2335.2,819.7 2338.2,819.2 2341.2,818.8 2344.1,818.4 2347.1,818.1 2350.1,818.0 2353.1,818.0 2356.1,818.1 2359.1,818.2 2362.1,818.6 2365.0,819.0 2368.0,819.5 2370.9,820.1 2373.8,820.9 2376.7,821.7 2379.6,822.6 2382.4,823.5 2385.3,824.4 2387.9,825.2 2391.0,826.2" fill="none" stroke="#0000ff" stroke-width="8.2" stroke-linejoin="round" stroke-linecap="round"/>
<line x1="1960" y1="179.70" x2="2097" y2="179.70" stroke="#0000ff" stroke-width="8.7" stroke-linecap="round"/>
<g font-family="'Liberation Sans', sans-serif" fill="#000" transform="translate(0 203.00) scale(1 1.032)"><text font-size="70" x="2115.8 2153.9 2169.0" y="0">TiO</text><text font-size="43" x="2215.9" y="26.16">2</text><text font-size="70" x="2237.9 2259.5" y="0">-1</text></g>
<line x1="1960" y1="286.90" x2="2097" y2="286.90" stroke="#ff0000" stroke-width="8.7" stroke-linecap="round"/>
<g font-family="'Liberation Sans', sans-serif" fill="#000" transform="translate(0 310.20) scale(1 1.032)"><text font-size="70" x="2115.8 2153.9 2169.0" y="0">TiO</text><text font-size="43" x="2215.9" y="26.16">2</text><text font-size="70" x="2237.9 2259.5" y="0">-2</text></g>
<line x1="1960" y1="394.10" x2="2097" y2="394.10" stroke="#00ff00" stroke-width="8.7" stroke-linecap="round"/>
<g font-family="'Liberation Sans', sans-serif" fill="#000" transform="translate(0 417.40) scale(1 1.032)"><text font-size="70" x="2115.8 2153.9 2169.0" y="0">TiO</text><text font-size="43" x="2215.9" y="26.16">2</text><text font-size="70" x="2237.9 2259.5" y="0">-3</text></g>
<g font-family="'Liberation Sans', sans-serif" fill="#000" transform="translate(0 1893.9) scale(1 1.038)"><text font-size="76" x="1077.1" y="0" style="letter-spacing:-3.16px">Temperature,</text><text font-size="46" x="1514.4" y="-39.11">o</text><text font-size="76" x="1538.0" y="0">C</text></g>
<text font-family="'Liberation Sans', sans-serif" font-size="76" fill="#000" transform="translate(94.2 1119.2) rotate(-90) scale(1 1.038)" style="letter-spacing:-0.34px">Weight loss, %</text>
</svg>
</body></html>
